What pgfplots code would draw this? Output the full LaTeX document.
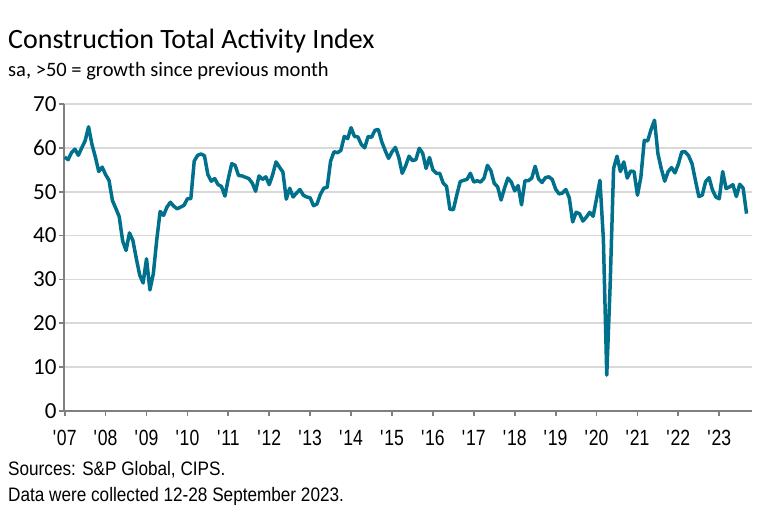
\documentclass[border=0pt]{standalone}
\usepackage{fontspec}
\setmainfont{Carlito}
\newfontfamily\narrowfont[FakeStretch=0.88]{Liberation Sans}
\newfontfamily\ticknarrow[FakeStretch=0.8]{Liberation Sans}
\usepackage{pgfplots}
\pgfplotsset{compat=1.18}

\definecolor{pmiline}{RGB}{0,112,140}
\definecolor{gridgray}{RGB}{217,217,217}
\definecolor{axisgray}{RGB}{128,128,128}

\begin{document}
\begin{tikzpicture}
\useasboundingbox (0pt,0pt) rectangle (768pt,524pt);
\node[anchor=base west, inner sep=0pt, font=\fontsize{28}{28}\selectfont] at (8pt,475pt) {Construction Total Activity Index};
\node[anchor=base west, inner sep=0pt, font=\fontsize{20.5}{20.5}\selectfont] at (8pt,447pt) {sa, >50 = growth since previous month};
\node[anchor=base west, inner sep=0pt, font=\narrowfont\fontsize{19.5}{19.5}\selectfont] at (8pt,48pt) {Sources: S\&P Global, CIPS.};
\node[anchor=base west, inner sep=0pt, font=\narrowfont\fontsize{19.5}{19.5}\selectfont] at (8pt,22pt) {Data were collected 12-28 September 2023.};
\begin{axis}[
  at={(64pt,113pt)}, anchor=south west,
  scale only axis, width=688pt, height=307pt,
  xmin=-0.2, xmax=201.6, ymin=0, ymax=70,
  axis x line*=bottom, axis y line*=left,
  axis line style={axisgray, line width=2.4pt, -},
  ytick={0,10,...,70},
  xtick={0,12,...,192},
  xticklabels={\textquotesingle07,\textquotesingle08,\textquotesingle09,\textquotesingle10,\textquotesingle11,\textquotesingle12,\textquotesingle13,\textquotesingle14,\textquotesingle15,\textquotesingle16,\textquotesingle17,\textquotesingle18,\textquotesingle19,\textquotesingle20,\textquotesingle21,\textquotesingle22,\textquotesingle23},
  ymajorgrids, grid style={gridgray, line width=1.8pt},
  tick align=outside, major tick length=5pt,
  tick style={axisgray, line width=1.8pt},
  /pgf/number format/assume math mode=true,
  yticklabel style={font=\fontsize{23}{23}\selectfont, xshift=1pt},
  xticklabel style={font=\ticknarrow\fontsize{22}{22}\selectfont, yshift=-11pt},
  clip=false,
]
\addplot[pmiline, line width=3.5pt, line join=round, no marks] coordinates {
(0,57.9)(1,57.3)(2,58.9)(3,59.7)(4,58.3)(5,60.0)(6,61.6)(7,64.8)(8,60.8)(9,57.9)(10,54.6)(11,55.6)
(12,53.9)(13,52.6)(14,48.0)(15,46.2)(16,44.3)(17,38.8)(18,36.6)(19,40.6)(20,38.9)(21,34.8)(22,31.0)(23,29.2)
(24,34.7)(25,27.6)(26,31.3)(27,39.0)(28,45.5)(29,44.6)(30,46.5)(31,47.6)(32,46.7)(33,46.1)(34,46.5)(35,46.9)
(36,48.4)(37,48.4)(38,57.0)(39,58.3)(40,58.6)(41,58.2)(42,53.9)(43,52.4)(44,53.0)(45,51.6)(46,51.2)(47,49.0)
(48,53.0)(49,56.4)(50,56.0)(51,53.7)(52,53.6)(53,53.3)(54,53.0)(55,52.0)(56,50.1)(57,53.6)(58,52.8)(59,53.4)
(60,51.6)(61,53.9)(62,56.8)(63,55.6)(64,54.5)(65,48.3)(66,50.8)(67,48.8)(68,49.7)(69,50.5)(70,49.2)(71,48.8)
(72,48.6)(73,46.8)(74,47.2)(75,49.4)(76,50.8)(77,51.0)(78,57.0)(79,59.1)(80,58.9)(81,59.4)(82,62.6)(83,62.1)
(84,64.6)(85,62.6)(86,62.5)(87,60.8)(88,60.0)(89,62.6)(90,62.4)(91,64.0)(92,64.2)(93,61.4)(94,59.4)(95,57.6)
(96,59.1)(97,60.1)(98,57.8)(99,54.2)(100,55.9)(101,58.1)(102,57.1)(103,57.3)(104,59.9)(105,58.8)(106,55.3)(107,57.8)
(108,55.0)(109,54.2)(110,54.2)(111,52.0)(112,51.2)(113,46.0)(114,45.9)(115,49.2)(116,52.3)(117,52.6)(118,52.8)(119,54.2)
(120,52.2)(121,52.5)(122,52.2)(123,53.1)(124,56.0)(125,54.8)(126,51.9)(127,51.1)(128,48.1)(129,50.8)(130,53.1)(131,52.2)
(132,50.2)(133,51.4)(134,47.0)(135,52.5)(136,52.5)(137,53.1)(138,55.8)(139,52.9)(140,52.1)(141,53.2)(142,53.4)(143,52.8)
(144,50.6)(145,49.5)(146,49.7)(147,50.5)(148,48.6)(149,43.1)(150,45.3)(151,45.0)(152,43.3)(153,44.2)(154,45.3)(155,44.4)
(156,48.4)(157,52.6)(158,39.3)(159,8.2)(160,28.9)(161,55.3)(162,58.1)(163,54.6)(164,56.8)(165,53.1)(166,54.7)(167,54.6)
(168,49.2)(169,53.3)(170,61.7)(171,61.6)(172,64.2)(173,66.3)(174,58.7)(175,55.2)(176,52.4)(177,54.6)(178,55.5)(179,54.3)
(180,56.3)(181,59.1)(182,59.1)(183,58.2)(184,56.4)(185,52.6)(186,48.9)(187,49.2)(188,52.3)(189,53.2)(190,50.4)(191,48.8)
(192,48.4)(193,54.6)(194,50.7)(195,51.1)(196,51.6)(197,48.9)(198,51.7)(199,50.8)(200,45.0)
};
\end{axis}
\end{tikzpicture}
\end{document}
